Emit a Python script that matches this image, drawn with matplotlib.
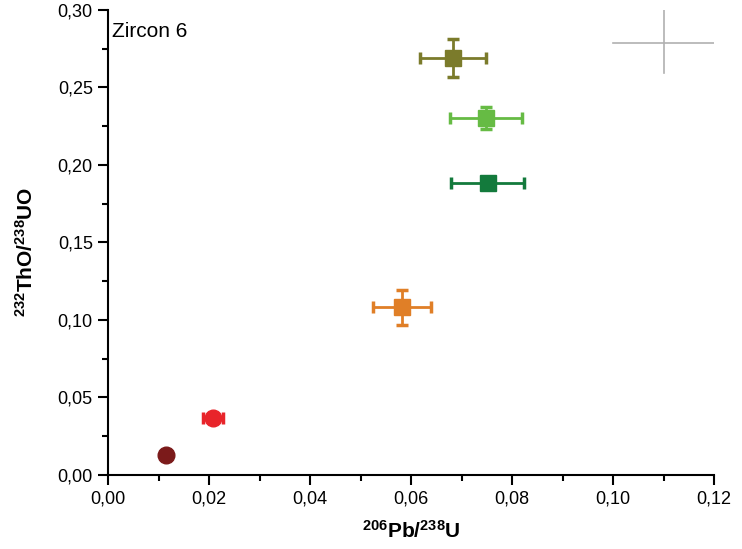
import matplotlib
matplotlib.use("Agg")
import matplotlib.pyplot as plt
from matplotlib.ticker import MultipleLocator, FuncFormatter

plt.rcParams['font.family'] = ['Liberation Sans', 'DejaVu Sans']
plt.rcParams['mathtext.fontset'] = 'custom'
plt.rcParams['mathtext.rm'] = 'Liberation Sans'
plt.rcParams['mathtext.bf'] = 'Liberation Sans:bold'

# data
pb_u = [0.0683, 0.0749, 0.0752, 0.0582, 0.0208, 0.0115]
pb_u_err = [0.0066, 0.0071, 0.0072, 0.0057, 0.0019, 0.0008]
tho_uo = [0.269, 0.2305, 0.1885, 0.1083, 0.0365, 0.0128]
tho_uo_err = [0.012, 0.0072, 0.0015, 0.0113, 0.0015, 0.0015]
colors = ['#7b7b2b', '#66bb44', '#137a3c', '#e07f27', '#e8242a', '#7b1a1a']
markers = ['s', 's', 's', 's', 'o', 'o']

fig = plt.figure(figsize=(7.42, 5.49), dpi=100)
ax = fig.add_axes([0.1456, 0.1348, 0.8167, 0.847])

for x, xe, y, ye, c, m in zip(pb_u, pb_u_err, tho_uo, tho_uo_err, colors, markers):
    ax.errorbar(x, y, xerr=xe, yerr=ye, fmt=m, color=c, ms=12,
                elinewidth=2, capsize=4, capthick=2.5, mec=c, mfc=c)

# cursor cross in the upper right
ax.plot([0.1000, 0.1202], [0.2787, 0.2787], color='#b0b0b0', lw=1.2)
ax.plot([0.1101, 0.1101], [0.2594, 0.30], color='#b0b0b0', lw=1.2)

ax.set_xlim(0, 0.12)
ax.set_ylim(0, 0.30)
ax.xaxis.set_major_locator(MultipleLocator(0.02))
ax.xaxis.set_minor_locator(MultipleLocator(0.01))
ax.yaxis.set_major_locator(MultipleLocator(0.05))
ax.yaxis.set_minor_locator(MultipleLocator(0.025))
comma = FuncFormatter(lambda v, p: f"{v:.2f}".replace('.', ','))
ax.xaxis.set_major_formatter(comma)
ax.yaxis.set_major_formatter(comma)

for s in ['top', 'right']:
    ax.spines[s].set_visible(False)
for s in ['left', 'bottom']:
    ax.spines[s].set_linewidth(1.5)
ax.tick_params(which='major', direction='out', length=7, width=1.5, labelsize=13, pad=4)
ax.tick_params(which='minor', direction='out', length=4, width=1.5)

ax.set_xlabel(r'$\mathbf{^{206}Pb/^{238}U}$', fontsize=15, labelpad=9)
ax.set_ylabel(r'$\mathbf{^{232}ThO/^{238}UO}$', fontsize=15)
ax.yaxis.set_label_coords(-0.117, 0.48)
ax.text(0.006, 0.975, 'Zircon 6', transform=ax.transAxes, fontsize=15,
        ha='left', va='top')

fig.savefig('out.png', dpi=100)
